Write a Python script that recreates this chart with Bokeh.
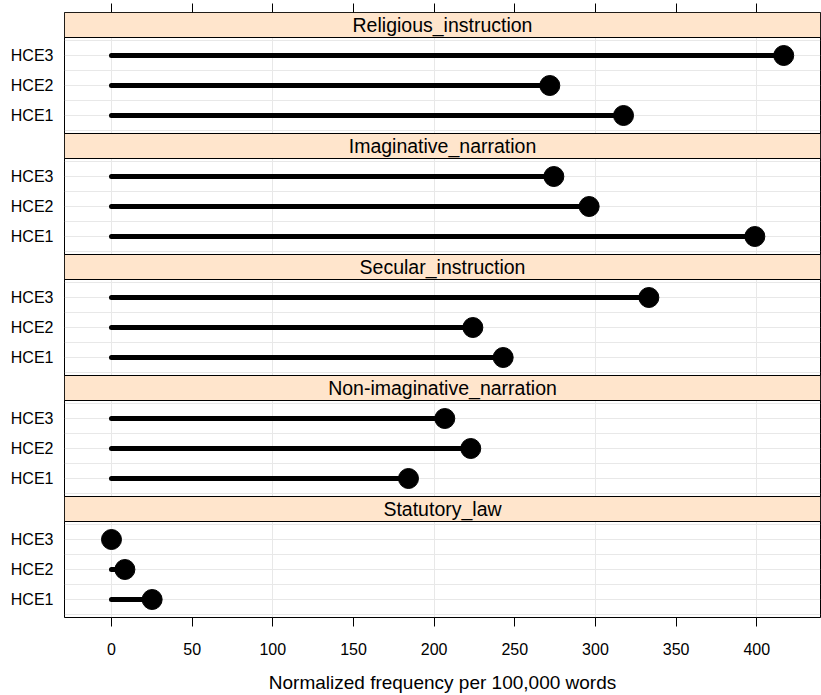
from bokeh.plotting import figure
from bokeh.models import FixedTicker, LinearAxis, Range1d, ColumnDataSource, CustomJSTickFormatter
from bokeh.core.properties import value
from bokeh.embed import file_html
from bokeh.resources import INLINE

# Register panels, listed top to bottom
registers = [
    "Religious_instruction",
    "Imaginative_narration",
    "Secular_instruction",
    "Non-imaginative_narration",
    "Statutory_law",
]
periods = ["HCE1", "HCE2", "HCE3"]

# Normalized frequency per 100,000 words, in the order HCE1, HCE2, HCE3
religious_instruction = [317.4, 271.7, 416.7]
imaginative_narration = [398.8, 296.1, 274.2]
secular_instruction = [242.8, 224.0, 333.1]
non_imaginative_narration = [184.1, 222.7, 206.6]
statutory_law = [25.2, 8.3, 0.0]

series = [
    religious_instruction,
    imaginative_narration,
    secular_instruction,
    non_imaginative_narration,
    statutory_law,
]

x_ticks = [0, 50, 100, 150, 200, 250, 300, 350, 400]
x_grid = [0, 100, 200, 300, 400]
x_title = "Normalized frequency per 100,000 words"

# Panel geometry, in category units (one category step = 30 px)
PX_PER_UNIT = 30.0
PAD = 0.6            # space below the first / above the last category
PLOT_H = 2 * PAD + 2  # 3.2 units of plotting area per panel
STRIP_H = 25.0 / PX_PER_UNIT
STRIDE = PLOT_H + STRIP_H
N = len(registers)

X0, X1 = -29.13, 439.5
FONT = "Liberation Sans"
STRIP_FILL = "#ffe5cc"
GRID_COL = "#e8e8e8"

p = figure(
    width=821, height=695,
    x_range=Range1d(X0, X1), y_range=Range1d(0, N * STRIDE),
    output_backend="svg", toolbar_location=None,
    min_border_left=64, min_border_right=1,
    min_border_top=12, min_border_bottom=78,
)
p.outline_line_color = "black"
p.background_fill_color = "white"
p.border_fill_color = "white"

# Category positions for every panel (bottom panel has index 0)
seg_y, seg_x1, tick_pos, tick_lab, half_grid = [], [], [], [], []
strip_bottom, strip_top, strip_mid, strip_text = [], [], [], []
plot_bottom, plot_top = [], []
for k, (name, vals) in enumerate(zip(registers, series)):
    slot = N - 1 - k
    base = slot * STRIDE
    for i, (per, v) in enumerate(zip(periods, vals)):
        y = base + PAD + i
        seg_y.append(y)
        seg_x1.append(v)
        tick_pos.append(y)
        tick_lab.append(per)
    for j in range(7):
        half_grid.append(base + PAD - 0.5 + 0.5 * j)
    plot_bottom.append(base)
    plot_top.append(base + PLOT_H)
    strip_bottom.append(base + PLOT_H)
    strip_top.append(base + STRIDE)
    strip_mid.append(base + PLOT_H + STRIP_H / 2)
    strip_text.append(name)

# grid lines
p.xgrid.ticker = FixedTicker(ticks=x_grid)
p.ygrid.ticker = FixedTicker(ticks=half_grid)
for g in (p.xgrid[0], p.ygrid[0]):
    g.grid_line_color = GRID_COL
    g.grid_line_width = 1

# lollipops
src = ColumnDataSource(dict(x0=[0] * len(seg_y), x1=seg_x1, y=seg_y))
p.segment(x0="x0", y0="y", x1="x1", y1="y", source=src,
          line_color="black", line_width=5, line_cap="round")
p.scatter(x="x1", y="y", source=src, size=20,
          fill_color="black", line_color="black")

# panel frames and strips
p.quad(left=X0, right=X1, bottom=plot_bottom, top=plot_top,
       fill_color=None, line_color="black", line_width=1)
strip_src = ColumnDataSource(dict(b=strip_bottom, t=strip_top, m=strip_mid, s=strip_text))
p.quad(left=X0, right=X1, bottom="b", top="t", source=strip_src,
       fill_color=STRIP_FILL, line_color="black", line_width=1)
p.text(x=(X0 + X1) / 2, y="m", text="s", source=strip_src,
       text_align="center", text_baseline="middle",
       text_font=value(FONT), text_font_size="19.5px", text_color="black")

# bottom axis
xa = p.xaxis[0]
xa.ticker = FixedTicker(ticks=x_ticks)
xa.axis_line_color = None
xa.major_tick_out = 9
xa.major_tick_in = 0
xa.minor_tick_line_color = None
xa.major_tick_line_color = "black"
xa.major_label_text_font = FONT
xa.major_label_text_font_size = "16px"
xa.major_label_text_color = "black"
xa.major_label_standoff = 16
xa.axis_label = x_title
xa.axis_label_text_font = FONT
xa.axis_label_text_font_size = "19px"
xa.axis_label_text_font_style = "normal"
xa.axis_label_text_color = "black"
xa.axis_label_standoff = 14

# top axis: tick marks only, no labels
top = LinearAxis(ticker=FixedTicker(ticks=x_ticks),
                 formatter=CustomJSTickFormatter(code="return ''"))
top.axis_line_color = None
top.major_tick_out = 9
top.major_tick_in = 0
top.minor_tick_line_color = None
top.major_label_standoff = 0
p.add_layout(top, "above")

# left axis: period labels
ya = p.yaxis[0]
ya.ticker = FixedTicker(ticks=tick_pos)
ya.major_label_overrides = {float(t): l for t, l in zip(tick_pos, tick_lab)}
ya.axis_line_color = None
ya.major_tick_out = 0
ya.major_tick_in = 0
ya.minor_tick_line_color = None
ya.major_label_text_font = FONT
ya.major_label_text_font_size = "16px"
ya.major_label_text_color = "black"
ya.major_label_standoff = 11

open("out.html", "w").write(file_html(p, INLINE))
